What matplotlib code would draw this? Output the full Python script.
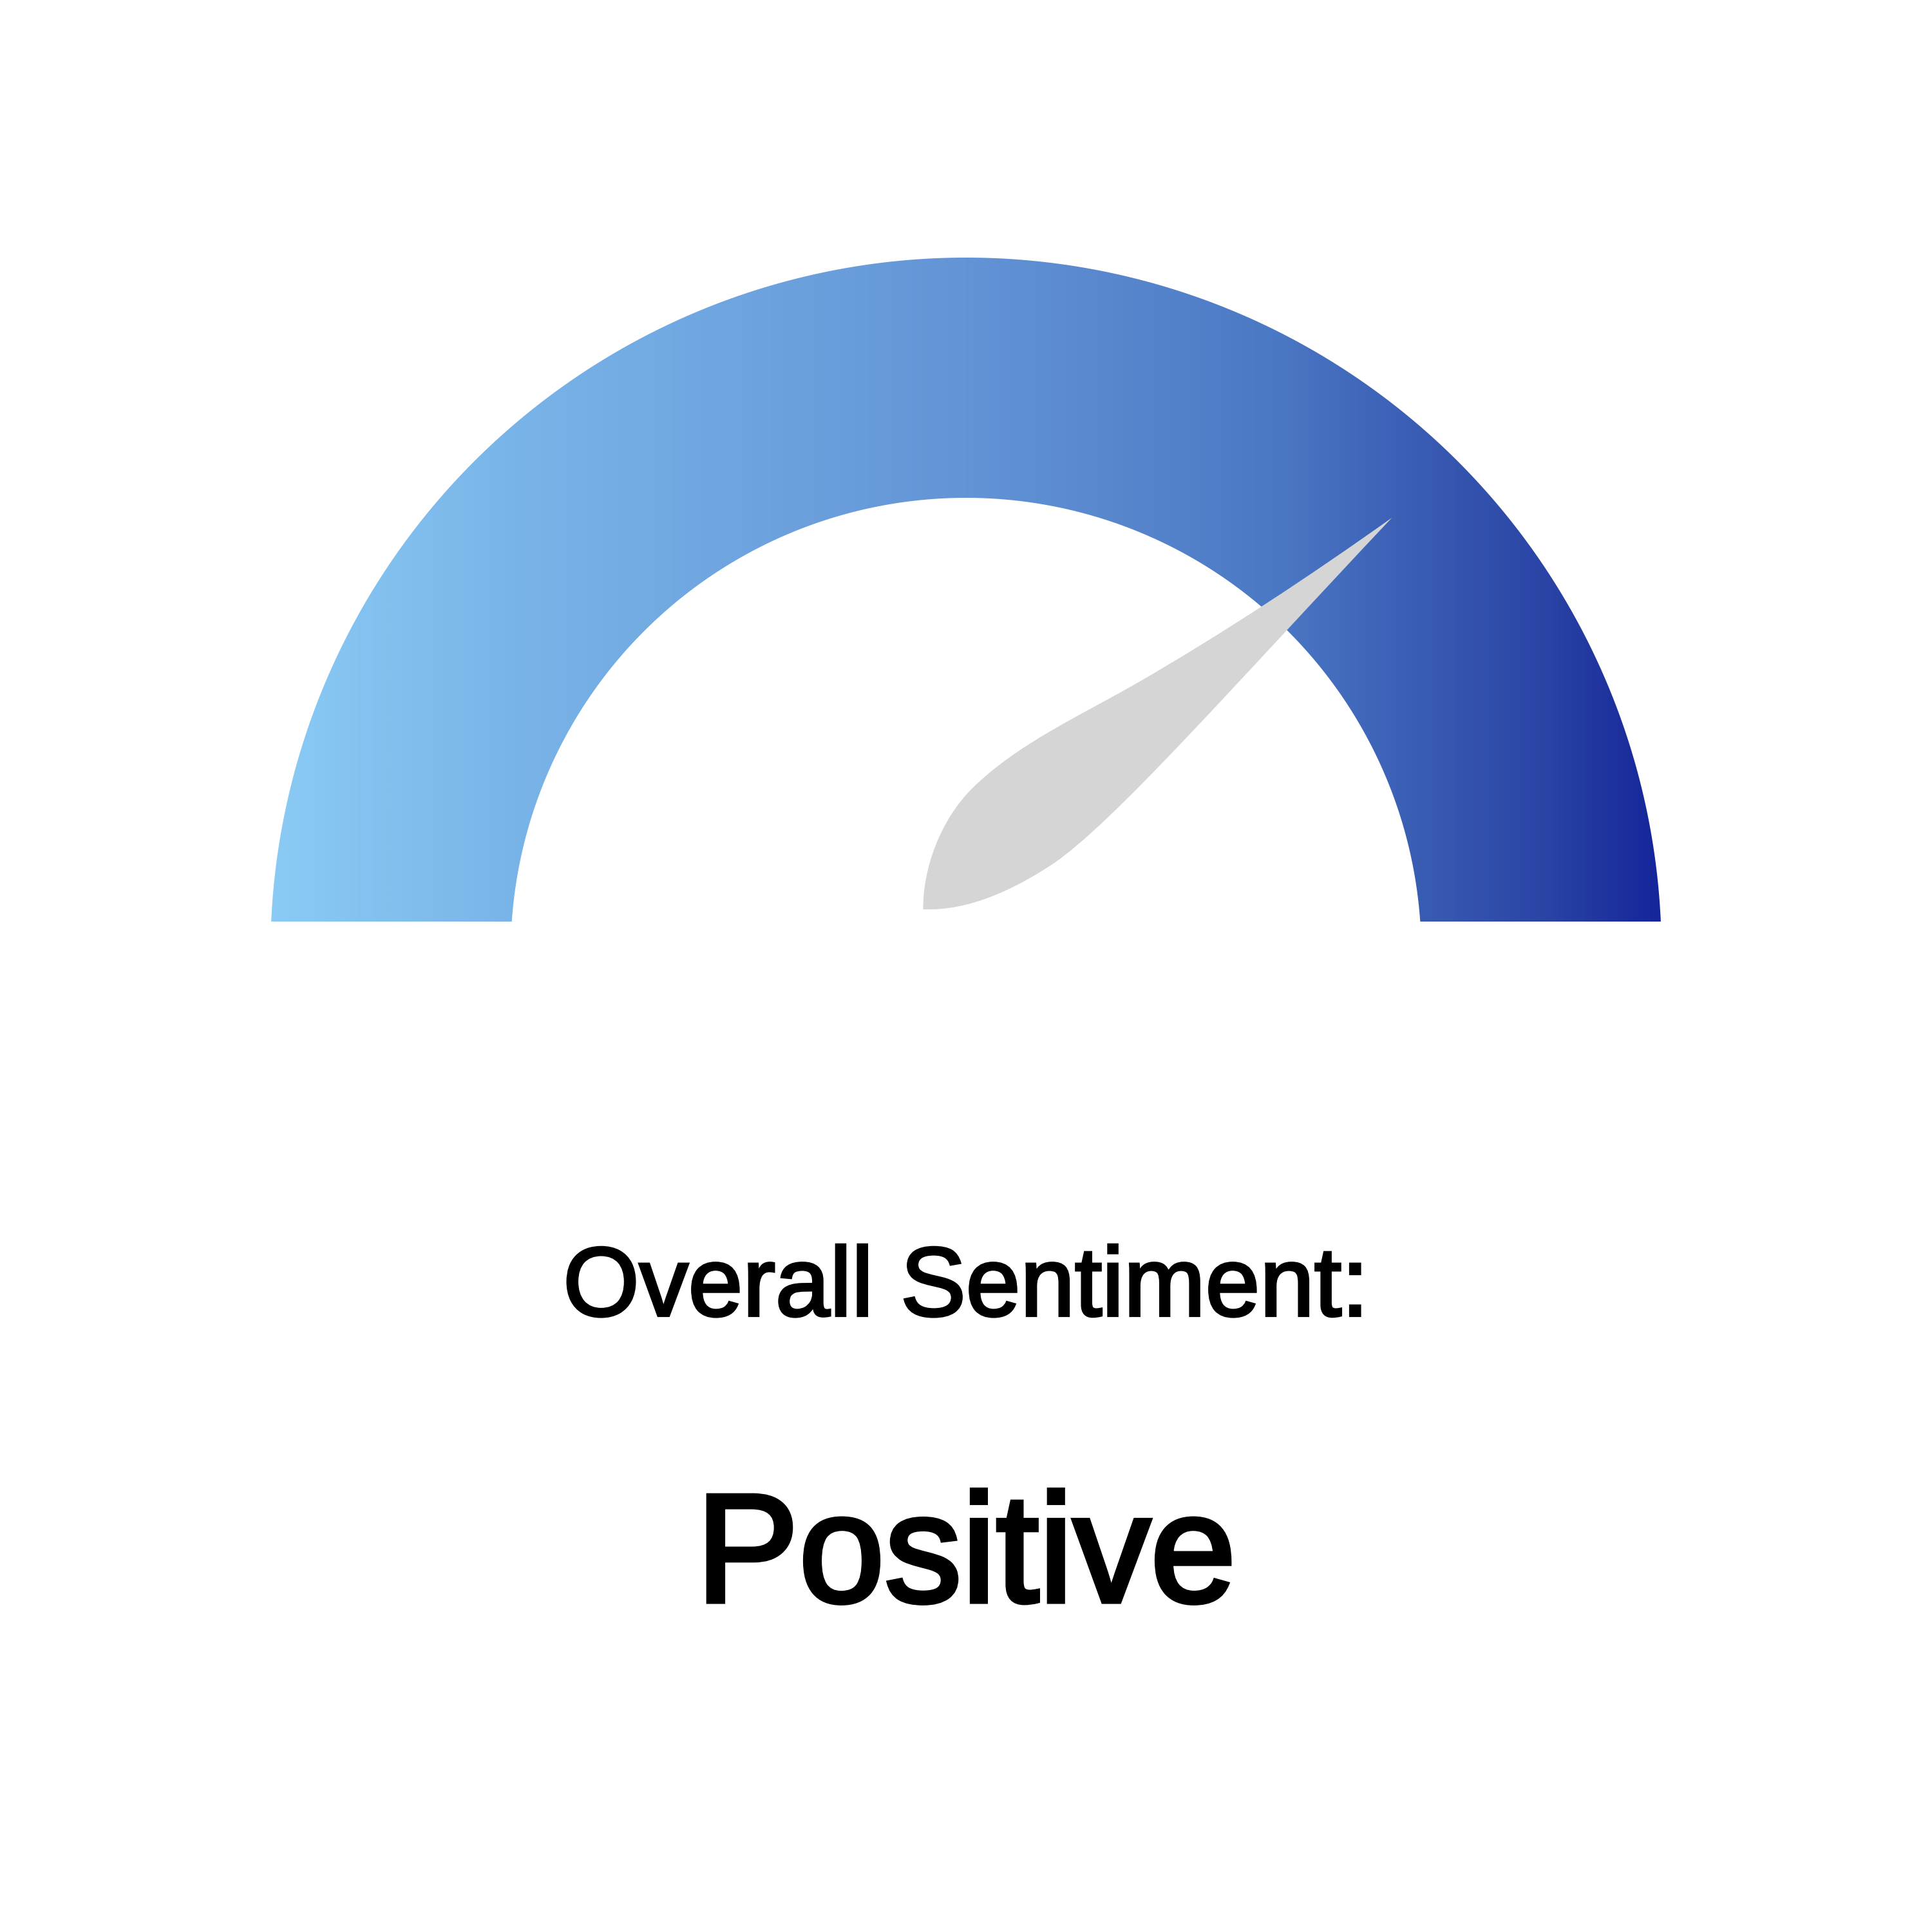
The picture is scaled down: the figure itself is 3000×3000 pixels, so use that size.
import numpy as np
import matplotlib.pyplot as plt
from matplotlib.path import Path
from matplotlib.patches import PathPatch
from matplotlib.colors import LinearSegmentedColormap
from matplotlib import transforms, patheffects

# gauge data
gauge_min = -1.0
gauge_max = 1.0
sentiment_score = 0.493
title_text = "Overall Sentiment:"
sentiment_label = "Positive"

# gradient of the band, left to right
grad_positions = [0.0, 0.175, 0.5, 0.725, 0.825, 0.925, 1.0]
grad_colors = ['#8acbf5', '#79b4e8', '#6394d6', '#4b78c4', '#3a5db4', '#2942a4', '#15259a']

# layout (axis units = output pixels, gauge centre at 0,0)
R_OUT = 1080
R_IN = 707
CUT = 49

fig = plt.figure(figsize=(10, 10), dpi=300)
ax = fig.add_axes([0, 0, 1, 1])

# band: annulus cut by a horizontal line slightly above the centre
a_out = np.arcsin(CUT / R_OUT)
a_in = np.arcsin(CUT / R_IN)
t_out = np.linspace(a_out, np.pi - a_out, 500)
t_in = np.linspace(np.pi - a_in, a_in, 400)
verts = np.vstack([
    np.column_stack([R_OUT * np.cos(t_out), R_OUT * np.sin(t_out)]),
    np.column_stack([R_IN * np.cos(t_in), R_IN * np.sin(t_in)]),
    [[R_OUT * np.cos(a_out), R_OUT * np.sin(a_out)]],
])
codes = [Path.MOVETO] + [Path.LINETO] * (len(verts) - 2) + [Path.CLOSEPOLY]
ring = PathPatch(Path(verts, codes), facecolor='none', edgecolor='none')
ax.add_patch(ring)

cmap = LinearSegmentedColormap.from_list('band', list(zip(grad_positions, grad_colors)))
img = ax.imshow(np.linspace(0, 1, 1024)[None, :], cmap=cmap,
                extent=[-R_OUT, R_OUT, CUT, R_OUT], aspect='auto',
                interpolation='bilinear', zorder=1)
img.set_clip_path(ring)

# needle: shape in its own frame (u along the needle, v to its left)
needle_verts = [
    (946, 0),
    (796, 27), (637, 61), (487, 103),
    (387, 131), (290, 170), (190, 172),
    (120, 173), (47, 140), (2, 95),
    (11.5, 85.5),
    (61.5, 35.5), (140, 12), (191, 1),
    (300, -23), (600, -6), (946, 0),
    (946, 0),
]
needle_codes = ([Path.MOVETO] + [Path.CURVE4] * 9 + [Path.LINETO]
                + [Path.CURVE4] * 6 + [Path.CLOSEPOLY])
angle = np.pi * (gauge_max - sentiment_score) / (gauge_max - gauge_min)
needle = PathPatch(Path(needle_verts, needle_codes), facecolor='#d5d5d5',
                   edgecolor='none', zorder=3,
                   transform=transforms.Affine2D().rotate(angle) + ax.transData)
ax.add_patch(needle)

ax.text(0, -563, title_text, ha='center', va='baseline', fontsize=36.5,
        family='Liberation Sans', color='black',
        path_effects=[patheffects.withStroke(linewidth=1.0, foreground='black',
                                             joinstyle='miter')])
ax.text(0, -1007, sentiment_label, ha='center', va='baseline', fontsize=57.5,
        family='Liberation Sans', color='black',
        path_effects=[patheffects.withStroke(linewidth=1.7, foreground='black',
                                             joinstyle='miter')])

ax.set_xlim(-1500, 1500)
ax.set_ylim(-1520, 1480)
ax.set_aspect('equal')
ax.axis('off')

fig.savefig('out.png', dpi=300, facecolor='white')
